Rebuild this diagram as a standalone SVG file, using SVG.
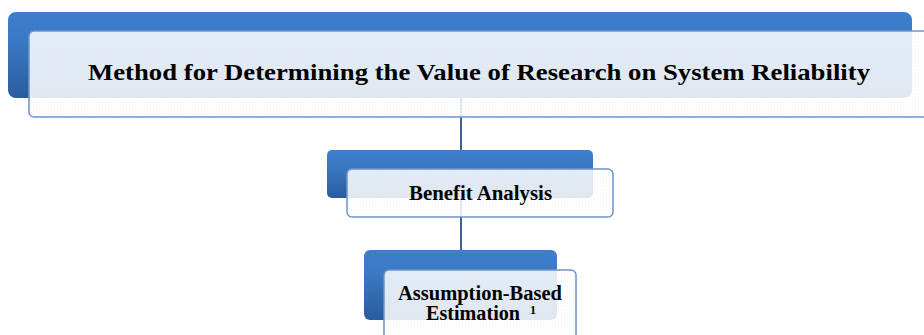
<svg xmlns="http://www.w3.org/2000/svg" width="924" height="335" viewBox="0 0 924 335">
<defs>
<linearGradient id="blueGrad" x1="0" y1="0" x2="0" y2="1">
<stop offset="0" stop-color="#3d7fcc"/>
<stop offset="0.35" stop-color="#3a78c3"/>
<stop offset="1" stop-color="#2b5c9e"/>
</linearGradient>
<pattern id="dots" width="3" height="3" patternUnits="userSpaceOnUse">
<rect width="3" height="3" fill="#ffffff" fill-opacity="0.85"/>
<rect x="0" y="0" width="1" height="1" fill="#e9ecf1" fill-opacity="0.6"/>
</pattern>
</defs>
<style>
.back{fill:url(#blueGrad);}
.front{fill:url(#dots);stroke:#6e95c9;stroke-width:1.5;}
.conn{stroke:#3b6296;stroke-width:2;fill:none;}
.t{font-family:"Liberation Serif","Times New Roman",serif;font-weight:bold;fill:#000;}
</style>
<rect width="924" height="335" fill="#ffffff"/>
<g id="connectors">
<line class="conn" x1="461" y1="55" x2="461" y2="285"/>
</g>
<g id="node-method">
<rect class="back" x="8" y="12" width="904" height="86" rx="8"/>
<rect class="front" x="29" y="31" width="915" height="86" rx="5"/>
<text class="t" x="88" y="80" font-size="23" textLength="782" lengthAdjust="spacingAndGlyphs">Method for Determining the Value of Research on System Reliability</text>
</g>
<g id="node-benefit">
<rect class="back" x="327" y="150" width="266" height="48" rx="5"/>
<rect class="front" x="347" y="169" width="266" height="48" rx="5"/>
<text class="t" x="409" y="200" font-size="20" textLength="143" lengthAdjust="spacingAndGlyphs">Benefit Analysis</text>
</g>
<g id="node-assumption">
<rect class="back" x="364" y="250" width="193" height="70" rx="6"/>
<rect class="front" x="384" y="270" width="192" height="90" rx="5"/>
<text class="t" x="398" y="300" font-size="20" textLength="164" lengthAdjust="spacingAndGlyphs">Assumption-Based</text>
<text class="t" x="426" y="320" font-size="20" textLength="94" lengthAdjust="spacingAndGlyphs">Estimation</text>
<text class="t" x="530" y="314" font-size="12">1</text>
</g>
</svg>
